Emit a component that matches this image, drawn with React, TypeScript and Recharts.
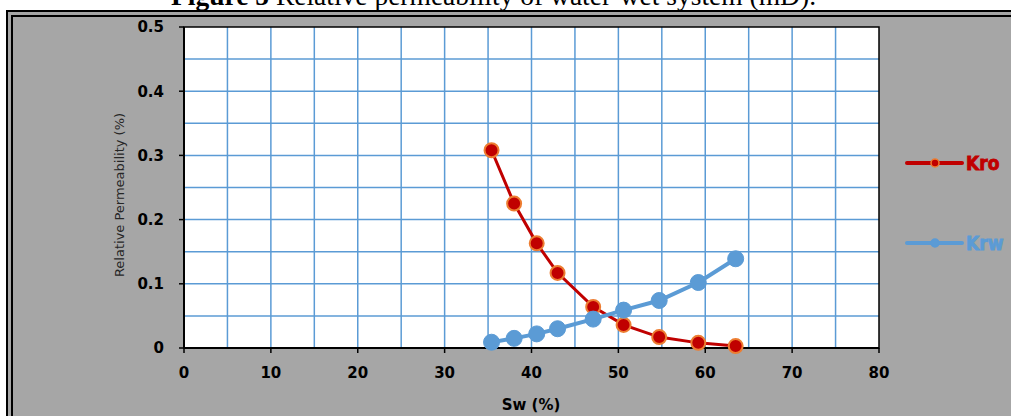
import {
  CartesianGrid,
  Legend,
  Line,
  LineChart,
  ReferenceArea,
  XAxis,
  YAxis,
} from "recharts"

// water saturation (%) and relative permeabilities
const SW = [35.4, 38.0, 40.6, 43.0, 47.1, 50.6, 54.7, 59.2, 63.5]
const KRO = [0.308, 0.225, 0.163, 0.117, 0.064, 0.036, 0.017, 0.008, 0.003]
const KRW = [0.009, 0.015, 0.022, 0.03, 0.045, 0.059, 0.074, 0.102, 0.139]

const X_TICKS = [0, 10, 20, 30, 40, 50, 60, 70, 80]
const Y_TICKS = [0, 0.1, 0.2, 0.3, 0.4, 0.5]
const X_GRID = [5, 10, 15, 20, 25, 30, 35, 40, 45, 50, 55, 60, 65, 70, 75]
const Y_GRID = [0.05, 0.1, 0.15, 0.2, 0.25, 0.3, 0.35, 0.4, 0.45]

const data = SW.map((sw, i) => ({ sw, Kro: KRO[i], Krw: KRW[i] }))

const RED = "#c00000"
const ORANGE = "#ed7d31"
const BLUE = "#5b9bd5"
const GRAY = "#a6a6a6"

const SERIES_STYLE: Record<string, { line: string; fill: string; edge: string }> = {
  Kro: { line: RED, fill: RED, edge: ORANGE },
  Krw: { line: BLUE, fill: BLUE, edge: BLUE },
}

const tickFont = {
  fontFamily: "'DejaVu Sans', sans-serif",
  fontWeight: 700,
  fontSize: 15,
  fill: "#000",
}

function LegendBox({ payload }: any) {
  const items = (payload || []) as any[]
  return (
    <svg width={131} height={140}>
      {items.map((it, i) => {
        const s = SERIES_STYLE[it.value]
        const y = 33 + i * 80
        return (
          <g key={it.value}>
            <line x1={27} x2={82} y1={y} y2={y} stroke={s.line} strokeWidth={4} strokeLinecap="round" />
            <circle cx={55} cy={y} r={4} fill={s.fill} stroke={s.edge} strokeWidth={1.5} />
            <text
              x={86}
              y={y}
              dy="0.36em"
              fill={s.line}
              stroke={s.line}
              strokeWidth={0.8}
              fontFamily="'Liberation Sans Narrow', 'DejaVu Sans Condensed', sans-serif"
              fontWeight={700}
              fontSize={19}
            >
              {it.value}
            </text>
          </g>
        )
      })}
    </svg>
  )
}

export default function App() {
  return (
    <div style={{ position: "absolute", left: 0, top: 0, width: 1011, height: 416, overflow: "hidden", background: "#fff" }}>
      <div
        style={{
          position: "absolute",
          left: 171,
          top: -18,
          whiteSpace: "nowrap",
          fontFamily: "'Liberation Serif', 'Times New Roman', serif",
          fontSize: 27.5,
          lineHeight: 1,
          color: "#000",
        }}
      >
        <b>Figure 5</b> Relative permeability of water-wet system (mD).
      </div>
      <div
        style={{
          position: "absolute",
          left: 6,
          top: 10,
          width: 1100,
          height: 500,
          border: "7px double #000",
          background: GRAY,
        }}
      />
      <div style={{ position: "absolute", left: 0, top: 0 }}>
        <LineChart
          width={1011}
          height={416}
          data={data}
          margin={{ top: 27, right: 132, left: 124, bottom: 38 }}
        >
          <CartesianGrid
            fill="#fff"
            stroke={BLUE}
            strokeWidth={1.5}
            verticalValues={X_GRID}
            horizontalValues={Y_GRID}
          />
          <ReferenceArea x1={0} x2={80} y1={0} y2={0.5} fill="none" stroke="#000" strokeWidth={1.5} fillOpacity={0} />
          <XAxis
            dataKey="sw"
            type="number"
            domain={[0, 80]}
            ticks={X_TICKS}
            height={30}
            tickSize={5}
            tickMargin={14}
            tick={tickFont}
            axisLine={{ stroke: "#000", strokeWidth: 2 }}
            tickLine={{ stroke: "#000", strokeWidth: 1.5 }}
            label={{
              content: () => (
                <text
                  x={531}
                  y={405}
                  textAnchor="middle"
                  dy="0.36em"
                  fontFamily="'DejaVu Sans', sans-serif"
                  fontWeight={700}
                  fontSize={15}
                  fill="#000"
                >
                  Sw (%)
                </text>
              ),
            }}
          />
          <YAxis
            type="number"
            domain={[0, 0.5]}
            ticks={Y_TICKS}
            width={60}
            tickSize={5}
            tickMargin={15}
            tick={tickFont}
            tickFormatter={(v: number) => (v === 0 ? "0" : v.toFixed(1))}
            axisLine={{ stroke: "#000", strokeWidth: 2 }}
            tickLine={{ stroke: "#000", strokeWidth: 1.5 }}
            label={{
              content: () => (
                <text
                  x={119}
                  y={195}
                  transform="rotate(-90 119 195)"
                  textAnchor="middle"
                  dy="0.36em"
                  fontFamily="'DejaVu Sans', sans-serif"
                  fontSize={13}
                  fill="#262626"
                >
                  Relative Permeability (%)
                </text>
              ),
            }}
          />
          <Legend
            layout="vertical"
            align="center"
            verticalAlign="middle"
            content={LegendBox}
            wrapperStyle={{ left: 880, top: 130, width: 131, height: 140 }}
          />
          <Line
            dataKey="Kro"
            name="Kro"
            type="linear"
            stroke={RED}
            strokeWidth={3}
            dot={{ r: 7, fill: RED, stroke: ORANGE, strokeWidth: 2 }}
            isAnimationActive={false}
          />
          <Line
            dataKey="Krw"
            name="Krw"
            type="linear"
            stroke={BLUE}
            strokeWidth={4}
            dot={{ r: 8, fill: BLUE, stroke: BLUE, strokeWidth: 1 }}
            isAnimationActive={false}
          />
        </LineChart>
      </div>
    </div>
  )
}
